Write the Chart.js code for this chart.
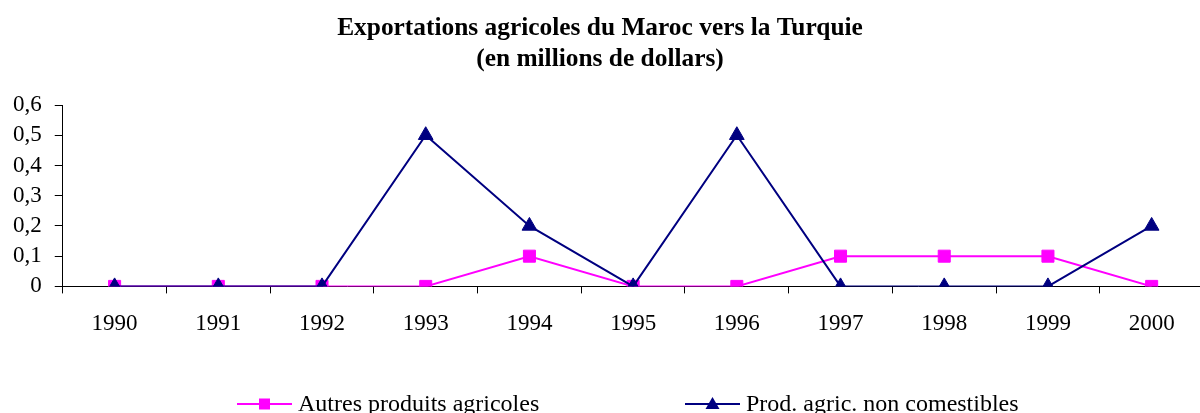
<!DOCTYPE html>
<html>
<head>
<meta charset="utf-8">
<script src="https://cdn.jsdelivr.net/npm/chart.js@4/dist/chart.umd.min.js"></script>
<style>
html,body{margin:0;padding:0;background:#fff;overflow:hidden;}
canvas{display:block;}
</style>
</head>
<body>
<canvas id="c" width="1213" height="413" style="width:1213px;height:413px;"></canvas>
<script>
const years = ['1990','1991','1992','1993','1994','1995','1996','1997','1998','1999','2000'];
const autresProduits = [0, 0, 0, 0, 0.1, 0, 0, 0.1, 0.1, 0.1, 0];
const nonComestibles = [0, 0, 0, 0.5, 0.2, 0, 0.5, 0, 0, 0, 0.2];
const seriesNames = ['Autres produits agricoles', 'Prod. agric. non comestibles'];
const titleLines = ['Exportations agricoles du Maroc vers la Turquie', '(en millions de dollars)'];

const SERIF = "'Liberation Serif', 'Times New Roman', serif";

const decorPlugin = {
  id: 'decor',
  afterDraw(chart) {
    const ctx = chart.ctx;
    ctx.save();
    // title
    ctx.fillStyle = '#000';
    ctx.font = "bold 25.4px " + SERIF;
    ctx.textAlign = 'center';
    ctx.textBaseline = 'middle';
    titleLines.forEach((t, i) => ctx.fillText(t, 600, 28 + i * 31));
    // legend
    const y = 404;
    const items = [{x: 237, ds: chart.data.datasets[0]}, {x: 685, ds: chart.data.datasets[1]}];
    items.forEach(it => {
      const cx = it.x + 27.5;
      ctx.strokeStyle = it.ds.borderColor;
      ctx.lineWidth = 2;
      ctx.beginPath();
      ctx.moveTo(it.x, y);
      ctx.lineTo(it.x + 55, y);
      ctx.stroke();
      ctx.fillStyle = it.ds.pointBackgroundColor;
      ctx.beginPath();
      if (it.ds.pointStyle === 'rect') {
        ctx.fillRect(cx - 5.5, y - 5.5, 11, 11);
      } else {
        ctx.moveTo(cx, y - 7);
        ctx.lineTo(cx + 7, y + 5);
        ctx.lineTo(cx - 7, y + 5);
        ctx.closePath();
        ctx.fill();
      }
      ctx.fillStyle = '#000';
      ctx.font = "24px " + SERIF;
      ctx.textBaseline = 'middle';
      ctx.textAlign = 'left';
      ctx.fillText(it.ds.label, it.x + 61, y + 1);
    });
    ctx.restore();
  }
};

new Chart(document.getElementById('c'), {
  type: 'line',
  data: {
    labels: years,
    datasets: [
      {
        label: seriesNames[0],
        data: autresProduits,
        borderColor: '#FF00FF',
        backgroundColor: '#FF00FF',
        pointBackgroundColor: '#FF00FF',
        pointBorderColor: '#FF00FF',
        pointStyle: 'rect',
        pointRadius: 8.5,
        pointBorderWidth: 1,
        borderWidth: 2,
        tension: 0,
        order: 1
      },
      {
        label: seriesNames[1],
        data: nonComestibles,
        borderColor: '#000080',
        backgroundColor: '#000080',
        pointBackgroundColor: '#000080',
        pointBorderColor: '#000080',
        pointStyle: 'triangle',
        pointRadius: 8.5,
        pointBorderWidth: 1,
        borderWidth: 2,
        tension: 0,
        order: 0
      }
    ]
  },
  options: {
    responsive: false,
    animation: false,
    devicePixelRatio: 1,
    layout: { padding: { left: 0, right: 0, top: 105, bottom: 58 } },
    plugins: {
      legend: { display: false },
      tooltip: { enabled: false },
      title: { display: false }
    },
    scales: {
      x: {
        offset: true,
        grid: { display: true, drawOnChartArea: false, offset: true, tickLength: 7, color: '#000', tickColor: '#000' },
        border: { display: true, color: '#000', width: 1 },
        ticks: { color: '#000', font: { family: SERIF, size: 23 }, padding: 17, maxRotation: 0, autoSkip: false }
      },
      y: {
        min: 0,
        max: 0.6,
        grid: { display: true, drawOnChartArea: false, tickLength: 8, color: '#000', tickColor: '#000' },
        border: { display: true, color: '#000', width: 1 },
        ticks: {
          stepSize: 0.1,
          autoSkip: false,
          color: '#000',
          padding: 13,
          font: { family: SERIF, size: 23 },
          callback: v => (Math.round(v * 10) / 10).toString().replace('.', ',')
        }
      }
    }
  },
  plugins: [decorPlugin]
});
</script>
</body>
</html>
